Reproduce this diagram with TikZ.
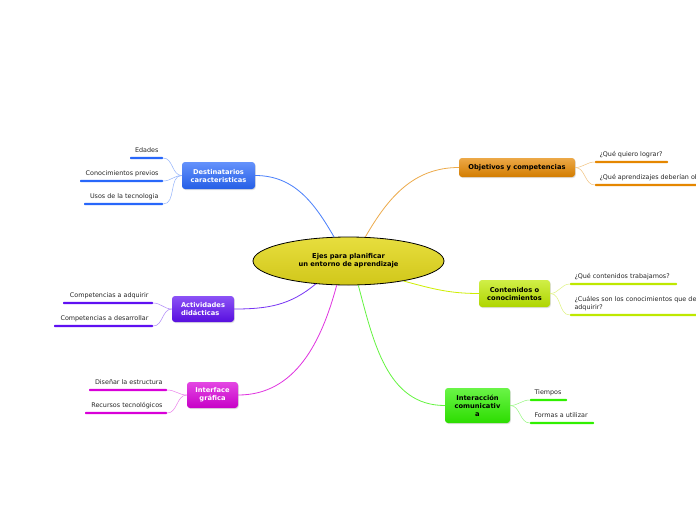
\documentclass[tikz,border=0pt]{standalone}
\usepackage{fontspec}
\setmainfont{DejaVu Sans}
\usetikzlibrary{positioning,shapes.geometric,shadows}

\definecolor{amarillo}{HTML}{E3D81C}
\definecolor{azul}{HTML}{2867FA}
\definecolor{naranja}{HTML}{E58700}
\definecolor{lima}{HTML}{BEE800}
\definecolor{verde}{HTML}{30F000}
\definecolor{morado}{HTML}{5F10F2}
\definecolor{fucsia}{HTML}{D800D8}

\begin{document}
\begin{tikzpicture}[
  x=1pt, y=-1pt,
  font=\fontsize{6.4}{7.8}\selectfont,
  eje/.style={ellipse, draw=black, line width=0.8pt, top color=amarillo!85!white, bottom color=amarillo!92!black,
              align=center, font=\fontsize{6.7}{8.2}\selectfont\bfseries},
  rama/.style={rounded corners=3pt, top color=#1!72!white, bottom color=#1!92!black, align=center, inner sep=2pt,
               font=\fontsize{6.7}{8}\selectfont\bfseries,
               drop shadow={shadow xshift=0.8pt, shadow yshift=-1pt, opacity=0.25}},
  raya/.style={fill=#1, inner sep=0pt, minimum height=2.4pt, rounded corners=0.8pt},
  hoja/.style={inner sep=0pt, text=black!85},
  conector/.style={draw=#1, line width=0.8pt},
  enlace/.style={draw=#1!50, line width=0.5pt}
]
\clip (0,0) rectangle (696,520);
\fill[white] (0,0) rectangle (696,520);

\node[eje, minimum width=191pt, minimum height=48pt] (main) at (348.5,261) {Ejes para planificar\\un entorno de aprendizaje};

\node[rama=azul, text=white, minimum width=73pt, minimum height=27pt] (dest) at (218.5,175.5) {Destinatarios\\ caracteristicas};
\draw[conector=azul!85!white] (main.121) to[out=120, in=0] (dest.east);
\node[raya=azul, minimum width=33pt] (d1) at (146.5,158) {};
\node[hoja, anchor=base east, xshift=-4.5pt, yshift=3.8pt] (t1) at (d1.north east) {Edades};
\draw[enlace=azul] (dest.west) to[out=180, in=0] (d1.east);
\node[raya=azul, minimum width=83pt] (d2) at (121.5,181) {};
\node[hoja, anchor=base east, xshift=-4.5pt, yshift=3.8pt] (t2) at (d2.north east) {Conocimientos previos};
\draw[enlace=azul] (dest.west) to[out=180, in=0] (d2.east);
\node[raya=azul, minimum width=79pt] (d3) at (123.5,204) {};
\node[hoja, anchor=base east, xshift=-4.5pt, yshift=3.8pt] (t3) at (d3.north east) {Usos de la tecnologia};
\draw[enlace=azul] (dest.west) to[out=180, in=0] (d3.east);

\node[rama=naranja, text=black, minimum width=116pt, minimum height=19pt] (obj) at (517,167.5) {Objetivos y competencias};
\draw[conector=naranja!70!white] (main.55) to[out=60, in=180] (obj.west);
\node[raya=naranja, minimum width=73pt] (o1) at (631.5,162) {};
\node[hoja, anchor=base west, xshift=4.5pt, yshift=3.8pt] (t4) at (o1.north west) {¿Qué quiero lograr?};
\draw[enlace=naranja] (obj.east) to[out=0, in=180] (o1.west);
\node[raya=naranja, minimum width=180pt] (o2) at (685,185) {};
\node[hoja, anchor=base west, xshift=4.5pt, yshift=3.8pt] (t5) at (o2.north west) {¿Qué aprendizajes deberían obtener?};
\draw[enlace=naranja] (obj.east) to[out=0, in=180] (o2.west);

\node[rama=lima, text=black, minimum width=71pt, minimum height=27pt] (cont) at (514.5,293.5) {Contenidos o\\conocimientos};
\draw[conector=lima!75!yellow] (main.-20) to[out=-15, in=180] (cont.west);
\node[raya=lima, minimum width=107pt] (c1) at (623.5,284) {};
\node[hoja, anchor=base west, xshift=4.5pt, yshift=3.8pt] (t6) at (c1.north west) {¿Qué contenidos trabajamos?};
\draw[enlace=lima] (cont.east) to[out=0, in=180] (c1.west);
\node[raya=lima, minimum width=200pt] (c2) at (670,315) {};
\node[hoja, anchor=south west, align=left, xshift=4.5pt, yshift=3pt] (t7) at (c2.north west) {¿Cuáles son los conocimientos que deben\\adquirir?};
\draw[enlace=lima] (cont.east) to[out=0, in=180] (c2.west);

\node[rama=verde, text=black, minimum width=65pt, minimum height=35pt] (inter) at (477.5,405.5) {Interacción\\ comunicativ\\a};
\draw[conector=verde!75!white] (main.292) to[out=-75, in=180] (inter.west);
\node[raya=verde, minimum width=37pt] (i1) at (548.5,400) {};
\node[hoja, anchor=base west, xshift=4.5pt, yshift=3.8pt] (t8) at (i1.north west) {Tiempos};
\draw[enlace=verde] (inter.east) to[out=0, in=180] (i1.west);
\node[raya=verde, minimum width=64pt] (i2) at (562,423) {};
\node[hoja, anchor=base west, xshift=4.5pt, yshift=3.8pt] (t9) at (i2.north west) {Formas a utilizar};
\draw[enlace=verde] (inter.east) to[out=0, in=180] (i2.west);

\node[rama=morado, text=white, align=left, minimum width=62pt, minimum height=26pt] (activ) at (203,309) {Actividades\\didácticas};
\draw[conector=morado!85!white] (main.215) to[out=-140, in=0] (activ.east);
\node[raya=morado, minimum width=90pt] (a1) at (108,303) {};
\node[hoja, anchor=base east, xshift=-4.5pt, yshift=3.8pt] (t10) at (a1.north east) {Competencias a adquirir};
\draw[enlace=morado] (activ.west) to[out=180, in=0] (a1.east);
\node[raya=morado, minimum width=99pt] (a2) at (103.5,326) {};
\node[hoja, anchor=base east, xshift=-4.5pt, yshift=3.8pt] (t11) at (a2.north east) {Competencias a desarrollar};
\draw[enlace=morado] (activ.west) to[out=180, in=0] (a2.east);

\node[rama=fucsia, text=white, minimum width=51pt, minimum height=26pt] (graf) at (212.5,395) {Interface\\gráfica};
\draw[conector=fucsia!80!white] (main.244) to[out=-105, in=0] (graf.east);
\node[raya=fucsia, minimum width=78pt] (g1) at (128,390) {};
\node[hoja, anchor=base east, xshift=-4.5pt, yshift=3.8pt] (t12) at (g1.north east) {Diseñar la estructura};
\draw[enlace=fucsia] (graf.west) to[out=180, in=0] (g1.east);
\node[raya=fucsia, minimum width=82pt] (g2) at (126,413) {};
\node[hoja, anchor=base east, xshift=-4.5pt, yshift=3.8pt] (t13) at (g2.north east) {Recursos tecnológicos};
\draw[enlace=fucsia] (graf.west) to[out=180, in=0] (g2.east);
\end{tikzpicture}
\end{document}
